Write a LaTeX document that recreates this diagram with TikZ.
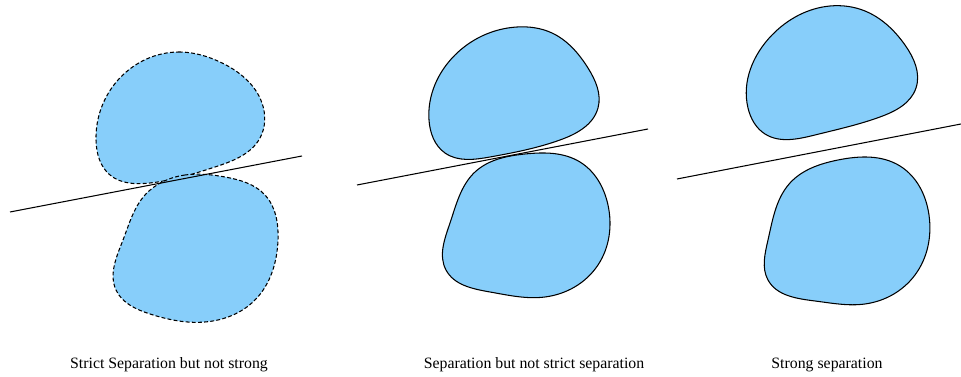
\documentclass[tikz,border=0pt]{standalone}
\usepackage{fontspec}
\setmainfont{Liberation Serif}
\usetikzlibrary{positioning,hobby}
\definecolor{blobblue}{HTML}{87CEFA}

\begin{document}
\begin{tikzpicture}[x=0.02cm, y=-0.02cm, line width=0.6pt,
        blob/.style={fill=blobblue, draw=black},
        dashblob/.style={blob, dash pattern=on 2.2pt off 1.3pt},
        caption/.style={font=\fontsize{9}{11}\selectfont, inner sep=0pt}]
        \useasboundingbox (0,0) rectangle (961,377);
        % strict separation
        \draw[dashblob] plot[closed hobby] coordinates {(180,52) (118,80) (96,140) (110,175) (150,183) (215,167) (260,138) (262,103) (220,62)};
        \draw[dashblob] plot[closed hobby] coordinates {(185,175) (145,195) (123,240) (116,290) (150,314) (205,322) (255,300) (278,240) (265,195) (225,177)};
        \draw (10,212) -- (302,156);
        % separation
        \draw[blob] plot[closed hobby] coordinates {(517,27) (455,55) (429,120) (445,153) (490,157) (560,140) (598,108) (588,68) (552,33)};
        \draw[blob] plot[closed hobby] coordinates {(525,154) (475,172) (450,223) (446,270) (490,292) (545,297) (598,265) (608,205) (580,162)};
        \draw (357,185) -- (648,129);
        % strong separation
        \draw[blob] plot[closed hobby] coordinates {(830,6) (772,35) (748,108) (765,134) (815,135) (880,117) (916,88) (905,45) (865,11)};
        \draw[blob] plot[closed hobby] coordinates {(838,160) (790,183) (768,240) (768,280) (815,301) (865,304) (915,275) (929,215) (900,166)};
        \draw (677,179) -- (961,124);
        \node[caption] (strict) at (169,365) {Strict Separation but not strong};
        \node[caption] (sep) at (534,365) {Separation but not strict separation};
        \node[caption] (strong) at (827,365) {Strong separation};
\end{tikzpicture}
\end{document}
